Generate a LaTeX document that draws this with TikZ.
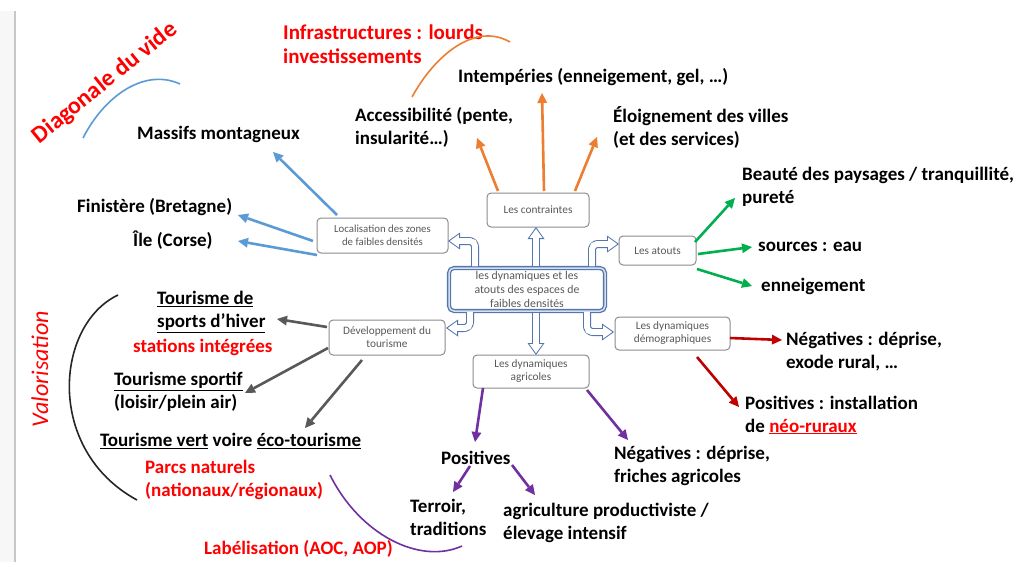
\documentclass[tikz,border=0pt]{standalone}
\usepackage{fontspec}
\setmainfont{Carlito}
\usetikzlibrary{arrows.meta}
\definecolor{blueA}{HTML}{5B9BD5}
\definecolor{orangeA}{HTML}{ED7D31}
\definecolor{greenA}{HTML}{00B050}
\definecolor{redA}{HTML}{C00000}
\definecolor{purpleA}{HTML}{7030A0}
\definecolor{grayA}{HTML}{595959}
\definecolor{redT}{HTML}{FF0000}
\definecolor{boxgray}{HTML}{8C8C8C}
\definecolor{boxtext}{HTML}{595959}
\definecolor{hcol}{HTML}{5576AD}
\definecolor{glow}{HTML}{B8C9E4}
\newcommand\hollowarrow[1]{%
  \draw[line width=8pt, hcol, rounded corners=6pt, -{Triangle[width=17pt,length=12pt,line width=0pt]}] #1;
  \draw[line width=5.6pt, white, rounded corners=5pt, shorten >=1.8pt, -{Triangle[width=13pt,length=9pt,line width=0pt]}] #1;
  \draw[line width=5.6pt, white, rounded corners=5pt, shorten >=7pt] #1;
}
\begin{document}
\begin{tikzpicture}[x=1pt,y=-1pt,
  lbl/.style={font=\fontsize{19}{23}\selectfont\bfseries, text=black, inner sep=0pt, align=left},
  rlbl/.style={lbl, text=redT},
  box/.style={draw=boxgray, line width=1pt, rounded corners=4pt, fill=white, text=boxtext,
    font=\fontsize{11.3}{13}\selectfont, align=center, inner sep=0pt},
  arr/.style={line width=2.6pt, -{Triangle[length=10pt,width=10pt,line width=0pt]}},
  arc/.style={line width=1.6pt}
]
\useasboundingbox (0,0) rectangle (1016,562);
\fill[white] (0,0) rectangle (1016,562);
\fill[black!3] (0,11) rectangle (15,562);
\draw[black!22, line width=1.2pt] (15,11) -- (15,562);

% ---- boxes
\node[draw=hcol, line width=1.3pt, double=glow!60, double distance=1.5pt, rounded corners=5pt, fill=white,
  minimum width=156pt, minimum height=43pt, text=boxtext, font=\fontsize{11.8}{13.8}\selectfont, align=center, inner sep=0pt]
  (center) at (527,289.5) {les dynamiques et les\\atouts des espaces de\\faibles densités};
\node[box, minimum width=102pt, minimum height=34pt] (contr) at (538,210) {Les contraintes};
\node[box, minimum width=131pt, minimum height=35pt, font=\fontsize{10.8}{13}\selectfont] (loc) at (382.5,235.5) {Localisation des zones\\de faibles densités};
\node[box, minimum width=77pt, minimum height=29pt] (atouts) at (657.5,250.5) {Les atouts};
\node[box, minimum width=116pt, minimum height=35pt] (dev) at (387,337.5) {Développement du\\tourisme};
\node[box, minimum width=115pt, minimum height=33pt] (demo) at (672.5,333.5) {Les dynamiques\\démographiques};
\node[box, minimum width=116pt, minimum height=33pt] (agri) at (531,371.5) {Les dynamiques\\agricoles};

% ---- hollow arrows
\coordinate (h1a) at (536,266); \coordinate (h1b) at (536,227);
\coordinate (h2a) at (475,266); \coordinate (h2c) at (475,241); \coordinate (h2b) at (448,241);
\coordinate (h3a) at (592,266); \coordinate (h3c) at (592,244); \coordinate (h3b) at (619,244);
\coordinate (h4a) at (470,312); \coordinate (h4c) at (470,328); \coordinate (h4b) at (446,328);
\coordinate (h5a) at (587,312); \coordinate (h5c) at (587,332); \coordinate (h5b) at (614,332);
\coordinate (h6a) at (536,313); \coordinate (h6b) at (536,355);
\hollowarrow{(h1a) -- (h1b)}
\hollowarrow{(h2a) -- (h2c) -- (h2b)}
\hollowarrow{(h3a) -- (h3c) -- (h3b)}
\hollowarrow{(h4a) -- (h4c) -- (h4b)}
\hollowarrow{(h5a) -- (h5c) -- (h5b)}
\hollowarrow{(h6a) -- (h6b)}

% ---- labels
\node[lbl, anchor=west] (massifs) at (137,134) {Massifs montagneux};
\node[lbl, anchor=west] (finis) at (77,207) {Finistère (Bretagne)};
\node[lbl, anchor=west] (ile) at (133,240) {Île (Corse)};
\node[lbl, anchor=west] (access) at (355,127.5) {Accessibilité (pente,\\insularité…)};
\node[lbl, anchor=west] (intemp) at (458,77) {Intempéries (enneigement, gel, …)};
\node[lbl, anchor=west] (eloign) at (613,127.5) {Éloignement des villes\\(et des services)};
\node[lbl, anchor=west] (beaute) at (742,186.5) {Beauté des paysages / tranquillité,\\pureté};
\node[lbl, anchor=west] (sources) at (758,247) {sources : eau};
\node[lbl, anchor=west] (enneig) at (761,286) {enneigement};
\node[lbl, anchor=west] (negdemo) at (786,351.5) {Négatives : déprise,\\exode rural, …};
\node[lbl, anchor=west] (posdemo) at (745,415) {Positives : installation\\de \textcolor{redT}{\underline{néo-ruraux}}};
\node[lbl, anchor=west] (negagri) at (614,465.5) {Négatives : déprise,\\friches agricoles};
\node[lbl, anchor=west] (posagri) at (441,458) {Positives};
\node[lbl, anchor=west] (terroir) at (410,517.5) {Terroir,\\traditions};
\node[lbl, anchor=west] (agric) at (503,522.5) {agriculture productiviste /\\élevage intensif};
\node[lbl, anchor=west] (hiver) at (157,312) {\underline{Tourisme de}\\\underline{sports d’hiver}};
\node[rlbl, anchor=west] (stations) at (133,347) {stations intégrées};
\node[lbl, anchor=west] (sportif) at (114,392) {\underline{Tourisme sportif}\\(loisir/plein air)};
\node[lbl, anchor=west] (vert) at (100,441) {\underline{Tourisme vert} voire \underline{éco-tourisme}};
\node[rlbl, anchor=west] (parcs) at (145,479.5) {Parcs naturels\\(nationaux/régionaux)};
\node[rlbl, anchor=west] (label) at (204,549) {Labélisation (AOC, AOP)};
\node[rlbl, anchor=west, font=\fontsize{21}{24}\selectfont\bfseries] (infra) at (283,44) {Infrastructures : lourds\\investissements};
\node[rlbl, font=\fontsize{24}{28}\selectfont\bfseries, rotate=39] (diag) at (105,83) {Diagonale du vide};
\node[rlbl, font=\fontsize{24}{28}\selectfont\itshape, rotate=90] (valor) at (40,369) {Valorisation};

% ---- coloured arrows
\coordinate (b1a) at (337,215); \coordinate (b1b) at (273,152);
\coordinate (b2a) at (313,241); \coordinate (b2b) at (238,215);
\coordinate (b3a) at (317,255); \coordinate (b3b) at (238,241);
\draw[arr, blueA] (b1a) -- (b1b);
\draw[arr, blueA] (b2a) -- (b2b);
\draw[arr, blueA] (b3a) -- (b3b);

\coordinate (o1a) at (498,191); \coordinate (o1b) at (477,138);
\coordinate (o2a) at (544,191); \coordinate (o2b) at (542,93);
\coordinate (o3a) at (575,191); \coordinate (o3b) at (597,137);
\draw[arr, orangeA] (o1a) -- (o1b);
\draw[arr, orangeA] (o2a) -- (o2b);
\draw[arr, orangeA] (o3a) -- (o3b);

\coordinate (g1a) at (695,242); \coordinate (g1b) at (735,198);
\coordinate (g2a) at (698,254); \coordinate (g2b) at (752,247);
\coordinate (g3a) at (697,269); \coordinate (g3b) at (752,286);
\draw[arr, greenA] (g1a) -- (g1b);
\draw[arr, greenA] (g2a) -- (g2b);
\draw[arr, greenA] (g3a) -- (g3b);

\coordinate (r1a) at (730,338); \coordinate (r1b) at (782,340);
\coordinate (r2a) at (697,357); \coordinate (r2b) at (739,407);
\draw[arr, redA] (r1a) -- (r1b);
\draw[arr, redA] (r2a) -- (r2b);

\coordinate (p1a) at (483,388); \coordinate (p1b) at (475,442);
\coordinate (p2a) at (587,390); \coordinate (p2b) at (628,440);
\coordinate (p3a) at (470,466); \coordinate (p3b) at (453,492);
\coordinate (p4a) at (512,465); \coordinate (p4b) at (535,495);
\draw[arr, purpleA] (p1a) -- (p1b);
\draw[arr, purpleA] (p2a) -- (p2b);
\draw[arr, purpleA] (p3a) -- (p3b);
\draw[arr, purpleA] (p4a) -- (p4b);

\coordinate (k1a) at (327,327); \coordinate (k1b) at (277,319);
\coordinate (k2a) at (328,348); \coordinate (k2b) at (245,393);
\coordinate (k3a) at (362,360); \coordinate (k3b) at (305,428);
\draw[arr, grayA] (k1a) -- (k1b);
\draw[arr, grayA] (k2a) -- (k2b);
\draw[arr, grayA] (k3a) -- (k3b);

% ---- arcs
\coordinate (ba1) at (83,138); \coordinate (ba2) at (180,84);
\draw[arc, blueA] (ba1) .. controls (105,95) and (145,68) .. (ba2);
\coordinate (oa1) at (412,97); \coordinate (oa2) at (510,42);
\draw[arc, orangeA] (oa1) .. controls (435,55) and (475,22) .. (oa2);
\coordinate (ka1) at (118,295); \coordinate (ka2) at (137,500);
\draw[arc, black!85] (ka1) .. controls (55,325) and (45,450) .. (ka2);
\coordinate (pa1) at (330,475); \coordinate (pa2) at (462,546);
\draw[arc, purpleA] (pa1) .. controls (360,535) and (420,565) .. (pa2);
\end{tikzpicture}
\end{document}
